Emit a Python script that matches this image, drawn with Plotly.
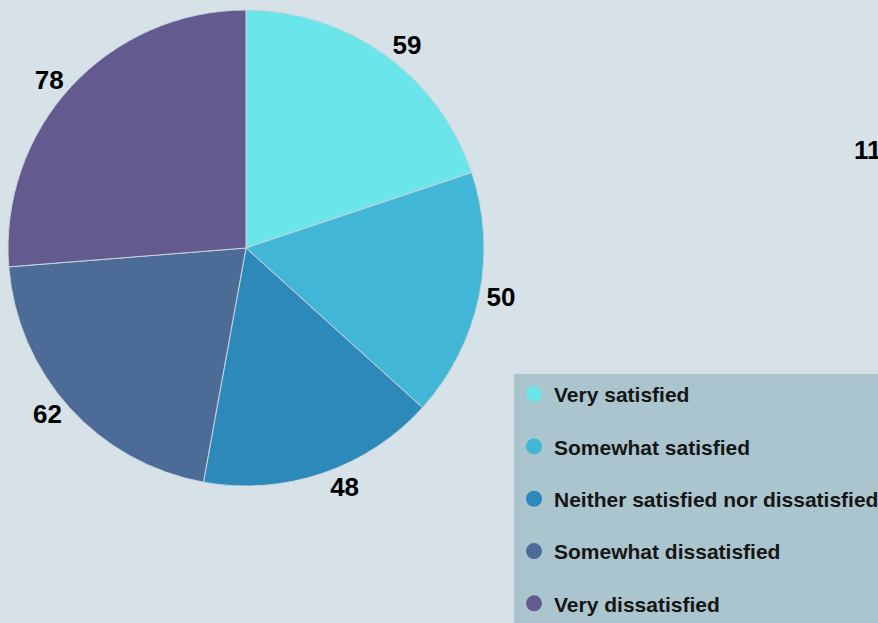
import plotly.graph_objects as go

# Survey satisfaction breakdown
categories = [
    "Very satisfied",
    "Somewhat satisfied",
    "Neither satisfied nor dissatisfied",
    "Somewhat dissatisfied",
    "Very dissatisfied",
]
counts = [59, 50, 48, 62, 78]
colors = ["#6ae5e9", "#42b6d6", "#2e89bb", "#4c6b97", "#635a8f"]

side_label = "11"

W, H = 878, 623
BG = "#d6e2e8"

fig = go.Figure()

fig.add_trace(go.Pie(
    labels=categories,
    values=counts,
    sort=False,
    direction="clockwise",
    rotation=0,
    marker=dict(colors=colors, line=dict(color="#c9d3dc", width=1)),
    textinfo="value",
    textposition="outside",
    textfont=dict(family="Liberation Sans", size=26, color="#000000", weight="bold"),
    domain=dict(x=[8 / W, 484 / W], y=[1 - 486 / H, 1 - 10 / H]),
    showlegend=False,
    hoverinfo="label+value+percent",
))

# Legend entries with round markers
for i, (name, col) in enumerate(zip(categories, colors)):
    fig.add_trace(go.Scatter(
        x=[None], y=[None],
        mode="markers",
        name=name,
        legendgroup=f"g{i}",
        marker=dict(symbol="circle", size=16, color=col),
        showlegend=True,
    ))

fig.add_annotation(
    text=side_label,
    xref="paper", yref="paper",
    x=852 / W, y=1 - 150 / H,
    xanchor="left", yanchor="middle",
    showarrow=False,
    font=dict(family="Liberation Sans", size=26, color="#000000", weight="bold"),
)

fig.update_layout(
    width=W, height=H,
    margin=dict(l=0, r=0, t=0, b=0, autoexpand=False),
    paper_bgcolor=BG,
    plot_bgcolor=BG,
    xaxis=dict(visible=False),
    yaxis=dict(visible=False),
    legend=dict(
        x=514 / W, y=1 - 374 / H,
        xanchor="left", yanchor="top",
        bgcolor="#abc5ce",
        borderwidth=0,
        tracegroupgap=22,
        font=dict(family="Liberation Sans", size=21, color="#151515", weight="bold"),
        itemclick=False,
    ),
)

fig.write_html("out.html")
